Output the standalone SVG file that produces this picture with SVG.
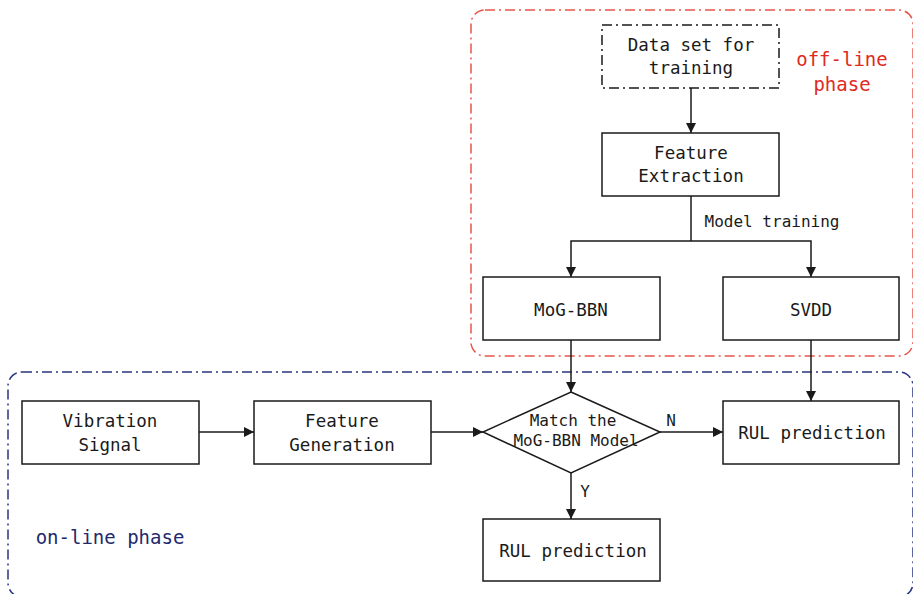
<svg xmlns="http://www.w3.org/2000/svg" width="913" height="594" viewBox="0 0 913 594">
  <style>
    .box { fill: #ffffff; stroke: #1a1a1a; stroke-width: 1.5; }
    .lbl { font-family: "DejaVu Sans Mono", "Liberation Mono", monospace; font-size: 17.5px; fill: #1a1a1a; text-anchor: middle; }
    .small { font-size: 16px; }
    .edge { fill: none; stroke: #1a1a1a; stroke-width: 1.5; }
    .phase-off { fill: none; stroke: #e8564a; stroke-width: 1.5; stroke-dasharray: 10 4 2 4; }
    .phase-on { fill: none; stroke: #2a3580; stroke-width: 1.5; stroke-dasharray: 10 4 2 4; }
  </style>
  <defs>
    <marker id="arrow" viewBox="0 0 10 10" refX="10" refY="5" markerWidth="10" markerHeight="10" markerUnits="userSpaceOnUse" orient="auto">
      <path d="M0,0 L10,5 L0,10 z" fill="#1a1a1a"/>
    </marker>
  </defs>

  <!-- phase containers -->
  <g id="offline-phase">
    <rect class="phase-off" x="471" y="10" width="442" height="346" rx="14"/>
    <text class="lbl" x="842" y="66" style="fill:#e02a22;font-size:19px">off-line</text>
    <text class="lbl" x="842" y="91" style="fill:#e02a22;font-size:19px">phase</text>
  </g>
  <g id="online-phase">
    <rect class="phase-on" x="8" y="372" width="905" height="225" rx="14"/>
    <text class="lbl" x="110" y="544" style="fill:#1f2a6e;font-size:19px">on-line phase</text>
  </g>

  <!-- connectors -->
  <g id="connectors">
    <path class="edge" d="M691,88 V133" marker-end="url(#arrow)"/>
    <path class="edge" d="M691,196 V241"/>
    <path class="edge" d="M691,241 H571 V277" marker-end="url(#arrow)"/>
    <path class="edge" d="M691,241 H811 V277" marker-end="url(#arrow)"/>
    <path class="edge" d="M571,340 V392" marker-end="url(#arrow)"/>
    <path class="edge" d="M811,340 V401" marker-end="url(#arrow)"/>
    <path class="edge" d="M199,432 H254" marker-end="url(#arrow)"/>
    <path class="edge" d="M431,432 H483" marker-end="url(#arrow)"/>
    <path class="edge" d="M660,432 H723" marker-end="url(#arrow)"/>
    <path class="edge" d="M571,473 V519" marker-end="url(#arrow)"/>
    <text class="lbl small" x="772" y="227">Model training</text>
    <text class="lbl small" x="671" y="426">N</text>
    <text class="lbl small" x="585" y="497">Y</text>
  </g>

  <!-- nodes -->
  <g id="dataset">
    <rect class="box" x="602" y="25" width="177" height="63" style="stroke-dasharray:10 4 2 4"/>
    <text class="lbl" x="691" y="51">Data set for</text>
    <text class="lbl" x="691" y="74">training</text>
  </g>
  <g id="feature-extraction">
    <rect class="box" x="602" y="133" width="177" height="63"/>
    <text class="lbl" x="691" y="159">Feature</text>
    <text class="lbl" x="691" y="182">Extraction</text>
  </g>
  <g id="mog-bbn">
    <rect class="box" x="483" y="277" width="177" height="63"/>
    <text class="lbl" x="571" y="316">MoG-BBN</text>
  </g>
  <g id="svdd">
    <rect class="box" x="723" y="277" width="176" height="63"/>
    <text class="lbl" x="811" y="316">SVDD</text>
  </g>
  <g id="vibration-signal">
    <rect class="box" x="22" y="401" width="177" height="63"/>
    <text class="lbl" x="110" y="427">Vibration</text>
    <text class="lbl" x="110" y="451">Signal</text>
  </g>
  <g id="feature-generation">
    <rect class="box" x="254" y="401" width="177" height="63"/>
    <text class="lbl" x="342" y="427">Feature</text>
    <text class="lbl" x="342" y="451">Generation</text>
  </g>
  <g id="match-decision">
    <polygon class="box" points="571,392 660,432 571,473 483,432"/>
    <text class="lbl small" x="573" y="426">Match the</text>
    <text class="lbl small" x="576" y="446">MoG-BBN Model</text>
  </g>
  <g id="rul-n">
    <rect class="box" x="723" y="401" width="176" height="63"/>
    <text class="lbl" x="812" y="439">RUL prediction</text>
  </g>
  <g id="rul-y">
    <rect class="box" x="483" y="519" width="177" height="62"/>
    <text class="lbl" x="573" y="557">RUL prediction</text>
  </g>
</svg>
